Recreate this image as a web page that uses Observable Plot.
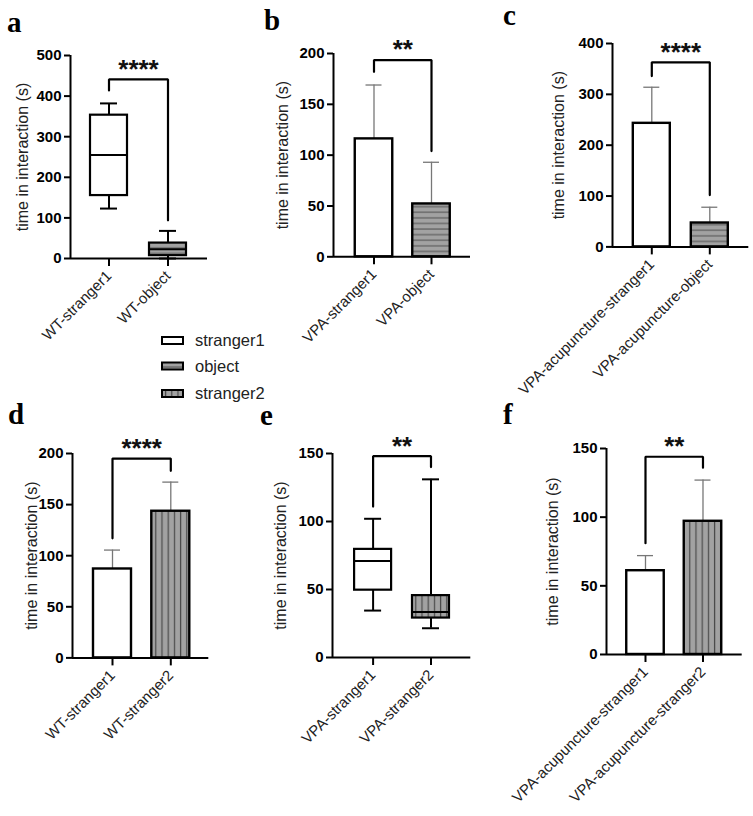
<!DOCTYPE html>
<html><head><meta charset="utf-8">
<script src="https://cdn.jsdelivr.net/npm/d3@7"></script>
<script src="https://cdn.jsdelivr.net/npm/@observablehq/plot@0.6"></script>
<style>
body{margin:0;background:#fff;}
#root{position:relative;width:753px;height:816px;overflow:hidden;font-family:"Liberation Sans",Arial,sans-serif;}
.letter{position:absolute;font-family:"Liberation Serif","Times New Roman",serif;font-weight:bold;font-size:29px;line-height:29px;color:#000;}
</style></head><body><div id="root"></div>
<script>
// ---------- data ----------
const panelLetters = ["a","b","c","d","e","f"];
const yLabel = "time in interaction (s)";
const legendLabels = ["stranger1","object","stranger2"];

const catsA = ["WT-stranger1","WT-object"];
const catsB = ["VPA-stranger1","VPA-object"];
const catsC = ["VPA-acupuncture-stranger1","VPA-acupuncture-object"];
const catsD = ["WT-stranger1","WT-stranger2"];
const catsE = ["VPA-stranger1","VPA-stranger2"];
const catsF = ["VPA-acupuncture-stranger1","VPA-acupuncture-stranger2"];

const groupsA = ["stranger1","object"];
const groupsB = ["stranger1","object"];
const groupsC = ["stranger1","object"];
const groupsD = ["stranger1","stranger2"];
const groupsE = ["stranger1","stranger2"];
const groupsF = ["stranger1","stranger2"];

// box plots: [min, q1, median, q3, max]
const boxA = [[123,155,255,353,382],[0,7,23,38,68]];
const boxE = [[34.5,49.5,71,79.5,102],[21.5,29,33.5,45.5,131]];

// bar charts: mean and error (SD)
const meanB = [116,52],   errB = [53,41];
const meanC = [243,47],   errC = [71,31];
const meanD = [87,143.5], errD = [18.5,28.5];
const meanF = [61,97],    errF = [11,30];

// significance brackets: [top, left leg end, right leg end]
const bracketA = [441,414,94];
const bracketB = [193.5,182,104];
const bracketC = [363,336,102];
const bracketD = [195,117,183];
const bracketE = [148,111,140];
const bracketF = [144,81,136];
const starsA = "****", starsB = "**", starsC = "****", starsD = "****", starsE = "**", starsF = "**";

const ticksA = [0,100,200,300,400,500];
const ticksB = [0,50,100,150,200];
const ticksC = [0,100,200,300,400];
const ticksD = [0,50,100,150,200];
const ticksE = [0,50,100,150];
const ticksF = [0,50,100,150];

// ---------- styles ----------
const fillFor = {stranger1: "white", object: "url(#pObj)", stranger2: "url(#pStr2)"};
const FONT = "'Liberation Sans', Arial, sans-serif";
const root = document.getElementById("root");

// pattern defs
const defsSvg = d3.select(root).append("svg").attr("width",0).attr("height",0)
  .style("position","absolute").style("left","0").style("top","0");
const defs = defsSvg.append("defs");
const p1 = defs.append("pattern").attr("id","pObj").attr("patternUnits","userSpaceOnUse").attr("width",8).attr("height",5.6);
p1.append("rect").attr("width",8).attr("height",5.6).attr("fill","#a2a2a2");
p1.append("rect").attr("x",0).attr("y",2.3).attr("width",8).attr("height",1.1).attr("fill","#585858");
const p2 = defs.append("pattern").attr("id","pStr2").attr("patternUnits","userSpaceOnUse").attr("width",6.2).attr("height",8);
p2.append("rect").attr("width",6.2).attr("height",8).attr("fill","#a2a2a2");
p2.append("rect").attr("x",2.6).attr("y",0).attr("width",1.2).attr("height",8).attr("fill","#4a4a4a");

function panel(cfg) {
  const mL = 62, mR = 8, mT = 34, mB = 170;
  const u = cfg.t1 - cfg.t0;
  const W = mL + (cfg.xEnd - cfg.axisX) + mR;
  const H = mT + (cfg.y0 - cfg.yTop) + mB;
  const xd = [(cfg.axisX - cfg.t0) / u, (cfg.xEnd - cfg.t0) / u];
  const hw = cfg.barW / 2 / u;
  const cw = cfg.capW / 2 / u;
  const ymax = d3.max(cfg.ticks);
  const marks = [];
  if (cfg.box) {
    const rows = cfg.box.map((b, i) => ({i, min: b[0], q1: b[1], med: b[2], q3: b[3], max: b[4], fill: fillFor[cfg.groups[i]]}));
    marks.push(
      Plot.ruleX(rows, {x: "i", y1: "min", y2: "q1", stroke: "black", strokeWidth: 2}),
      Plot.ruleX(rows, {x: "i", y1: "q3", y2: "max", stroke: "black", strokeWidth: 2}),
      Plot.ruleY(rows, {y: "min", x1: d => d.i - cw, x2: d => d.i + cw, stroke: "black", strokeWidth: 2}),
      Plot.ruleY(rows, {y: "max", x1: d => d.i - cw, x2: d => d.i + cw, stroke: "black", strokeWidth: 2}),
      Plot.rectY(rows, {x1: d => d.i - hw, x2: d => d.i + hw, y1: "q1", y2: "q3", fill: "fill", stroke: "black", strokeWidth: 2.2}),
      Plot.ruleY(rows, {y: "med", x1: d => d.i - hw, x2: d => d.i + hw, stroke: "black", strokeWidth: 2})
    );
  } else {
    const rows = cfg.mean.map((m, i) => ({i, mean: m, hi: m + cfg.err[i], fill: fillFor[cfg.groups[i]]}));
    marks.push(
      Plot.ruleX(rows, {x: "i", y1: "mean", y2: "hi", stroke: "#777", strokeWidth: 1.3}),
      Plot.ruleY(rows, {y: "hi", x1: d => d.i - cw, x2: d => d.i + cw, stroke: "#777", strokeWidth: 1.3}),
      Plot.rectY(rows, {x1: d => d.i - hw, x2: d => d.i + hw, y1: 0, y2: "mean", fill: "fill", stroke: "black", strokeWidth: 2.4})
    );
  }
  const br = cfg.bracket;
  const brPts = [{x: 0, y: br[1]}, {x: 0, y: br[0]}, {x: 1, y: br[0]}, {x: 1, y: br[2]}];
  marks.push(
    Plot.line(brPts, {x: "x", y: "y", stroke: "black", strokeWidth: 2.2, strokeLinejoin: "miter"}),
    Plot.text([cfg.stars], {x: () => 0.5, y: () => br[0], text: d => d, dy: -10, fontSize: 26, fontWeight: "bold", fill: "#111"}),
    Plot.ruleX([xd[0]], {y1: 0, y2: ymax, stroke: "black", strokeWidth: 2}),
    Plot.ruleY([0], {stroke: "black", strokeWidth: 2}),
    Plot.axisY({ticks: cfg.ticks, tickSize: 6, tickPadding: 3, strokeWidth: 2, fontSize: 15, fontWeight: "bold", fill: "black", label: null, tickFormat: d => String(d)}),
    Plot.axisX({ticks: [0, 1], tickSize: 8, tickPadding: 7, strokeWidth: 2, fontSize: 15, fill: "#222", tickRotate: -45, label: null, tickFormat: i => cfg.cats[i]}),
    Plot.text([yLabel], {frameAnchor: "left", textAnchor: "middle", rotate: -90, dx: cfg.labOff, text: d => d, fontSize: 16, fill: "#222"})
  );
  const plot = Plot.plot({
    width: W, height: H, marginLeft: mL, marginRight: mR, marginTop: mT, marginBottom: mB,
    style: {background: "transparent", overflow: "visible", fontFamily: FONT, maxWidth: "none"},
    x: {domain: xd, axis: null},
    y: {domain: [0, ymax], axis: null},
    color: {type: "identity"},
    marks
  });
  plot.style.position = "absolute";
  plot.style.left = (cfg.axisX - mL) + "px";
  plot.style.top = (cfg.yTop - mT) + "px";
  root.appendChild(plot);
}

panel({axisX: 70, xEnd: 207, t0: 108.5, t1: 167.5, yTop: 55, y0: 258, barW: 37, capW: 17, labOff: -48,
  ticks: ticksA, cats: catsA, groups: groupsA, box: boxA, bracket: bracketA, stars: starsA});
panel({axisX: 333, xEnd: 470, t0: 373.5, t1: 431, yTop: 52.7, y0: 256, barW: 37.5, capW: 16, labOff: -51,
  ticks: ticksB, cats: catsB, groups: groupsB, mean: meanB, err: errB, bracket: bracketB, stars: starsB});
panel({axisX: 611.7, xEnd: 748, t0: 651, t1: 709, yTop: 43.3, y0: 246.7, barW: 37, capW: 16, labOff: -54,
  ticks: ticksC, cats: catsC, groups: groupsC, mean: meanC, err: errC, bracket: bracketC, stars: starsC});
panel({axisX: 71.7, xEnd: 208, t0: 111.7, t1: 170, yTop: 453.3, y0: 657.7, barW: 38, capW: 16, labOff: -41,
  ticks: ticksD, cats: catsD, groups: groupsD, mean: meanD, err: errD, bracket: bracketD, stars: starsD});
panel({axisX: 331.7, xEnd: 470, t0: 372.3, t1: 430.2, yTop: 452.7, y0: 656.7, barW: 37, capW: 17, labOff: -52,
  ticks: ticksE, cats: catsE, groups: groupsE, box: boxE, bracket: bracketE, stars: starsE});
panel({axisX: 606, xEnd: 741.7, t0: 645, t1: 702.5, yTop: 448.3, y0: 654.3, barW: 37.5, capW: 16, labOff: -54,
  ticks: ticksF, cats: catsF, groups: groupsF, mean: meanF, err: errF, bracket: bracketF, stars: starsF});

// panel letters
const letterPos = [[7,8],[264,6],[503,1],[8,400],[260,401],[503,400]];
panelLetters.forEach((l, k) => {
  const d = document.createElement("div");
  d.className = "letter";
  d.textContent = l;
  d.style.left = letterPos[k][0] + "px";
  d.style.top = letterPos[k][1] + "px";
  root.appendChild(d);
});

// legend
const leg = d3.select(root).append("svg").attr("width", 200).attr("height", 90)
  .style("position", "absolute").style("left", "150px").style("top", "325px");
const rowY = [15.5, 41, 68.5];
legendLabels.forEach((lab, k) => {
  leg.append("rect").attr("x", 12).attr("y", rowY[k] - 3.5).attr("width", 21).attr("height", 7)
    .attr("fill", fillFor[lab]).attr("stroke", "black").attr("stroke-width", 2);
  leg.append("text").attr("x", 45).attr("y", rowY[k]).attr("dy", "0.35em")
    .attr("font-family", FONT).attr("font-size", 16.5).attr("fill", "#222").text(lab);
});
</script></body></html>
